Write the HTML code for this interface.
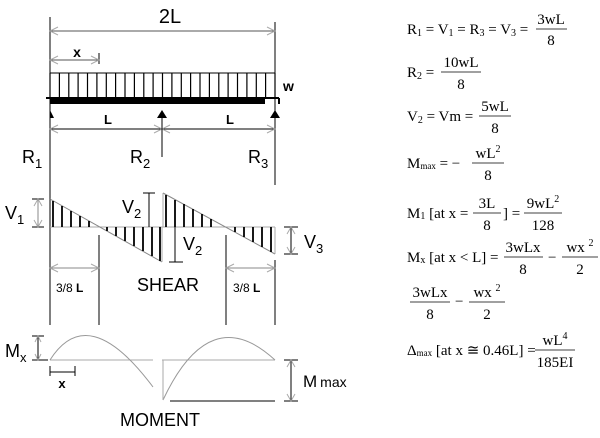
<!DOCTYPE html>
<html><head><meta charset="utf-8"><style>
html,body{margin:0;padding:0;background:#fff;}
svg{display:block;}
.s{font-family:"Liberation Sans",sans-serif;fill:#000;}
.e{font-family:"Liberation Serif",serif;font-size:15px;fill:#000;}
</style></head><body>
<svg width="600" height="438" viewBox="0 0 600 438" xmlns="http://www.w3.org/2000/svg">
<g stroke="#000" stroke-width="1" fill="none">
<line x1="50" y1="17" x2="50" y2="325"/>
<line x1="275" y1="22" x2="275" y2="185"/>
<line x1="50" y1="31" x2="275" y2="31" stroke="#555"/>
<polyline points="58,27 50,31 58,35" stroke="#aaa"/>
<polyline points="267,27 275,31 267,35" stroke="#aaa"/>
<line x1="50" y1="60" x2="99" y2="60" stroke="#555"/>
<line x1="99" y1="53" x2="99" y2="64"/>
<polyline points="58,56 50,60 58,64" stroke="#aaa"/>
<polyline points="91,56 99,60 91,64" stroke="#aaa"/>
<line x1="50" y1="73" x2="275" y2="73"/>
<path d="M50 73V98M59.4 73V98M68.8 73V98M78.1 73V98M87.5 73V98M96.9 73V98M106.3 73V98M115.6 73V98M125 73V98M134.4 73V98M143.8 73V98M153.1 73V98M162.5 73V98M171.9 73V98M181.3 73V98M190.6 73V98M200 73V98M209.4 73V98M218.8 73V98M228.1 73V98M237.5 73V98M246.9 73V98M256.3 73V98M265.6 73V98M275 73V98" stroke-width="1.2"/>
<line x1="46" y1="98" x2="279" y2="98" stroke-width="2"/>
<rect x="50" y="98" width="215" height="6" fill="#000" stroke="none"/>
<line x1="279" y1="98" x2="279" y2="104" stroke-width="2"/>
<line x1="50" y1="129" x2="275" y2="129"/>
<polyline points="58,125 50,129 58,133" stroke="#aaa"/>
<polyline points="154,125 162,129 154,133" stroke="#aaa"/>
<polyline points="170,125 162,129 170,133" stroke="#aaa"/>
<polyline points="267,125 275,129 267,133" stroke="#aaa"/>
<line x1="162" y1="118" x2="162" y2="157"/>
<line x1="50" y1="227" x2="275" y2="227" stroke="#aaa"/>
<line x1="50" y1="199" x2="162" y2="262" stroke="#888"/>
<line x1="163" y1="193" x2="275" y2="254" stroke="#888"/>
<line x1="162" y1="227" x2="162" y2="262" stroke="#aaa"/>
<line x1="275" y1="227" x2="275" y2="254" stroke="#aaa"/>
<line x1="163" y1="193" x2="163" y2="227" stroke="#aaa"/>
<path d="M53 201V227M62 206V227M71 211V227M80 216V227M89 221V227M107 227V231M116 227V236M125 227V241M134 227V246M143 227V251M152 227V256M160 227V261M166 195V227M175 200V227M184 204V227M193 209V227M202 214V227M211 219V227M235 227V232M244 227V237M253 227V242M262 227V247M271 227V252" stroke-width="1.8"/>
<line x1="38" y1="199" x2="38" y2="227" stroke="#888"/>
<line x1="32" y1="199" x2="44" y2="199"/><line x1="32" y1="227" x2="44" y2="227"/>
<polyline points="34,206 38,199 42,206" stroke="#aaa"/><polyline points="34,220 38,227 42,220" stroke="#aaa"/>
<line x1="149" y1="193" x2="149" y2="227"/><line x1="143" y1="193" x2="155" y2="193"/>
<line x1="175" y1="227" x2="175" y2="262"/><line x1="169" y1="262" x2="183" y2="262"/>
<line x1="291" y1="227" x2="291" y2="254"/>
<line x1="284" y1="227" x2="298" y2="227"/><line x1="284" y1="254" x2="298" y2="254"/>
<polyline points="287,234 291,227 295,234" stroke="#aaa"/><polyline points="287,247 291,254 295,247" stroke="#aaa"/>
<line x1="99" y1="235" x2="99" y2="325"/>
<line x1="226" y1="235" x2="226" y2="325"/>
<line x1="275" y1="260" x2="275" y2="325"/>
<line x1="50" y1="268" x2="99" y2="268" stroke="#888"/>
<line x1="226" y1="268" x2="275" y2="268" stroke="#888"/>
<polyline points="58,264 50,268 58,272" stroke="#aaa"/><polyline points="91,264 99,268 91,272" stroke="#aaa"/>
<polyline points="234,264 226,268 234,272" stroke="#aaa"/><polyline points="267,264 275,268 267,272" stroke="#aaa"/>
<line x1="50" y1="360" x2="153" y2="360" stroke="#aaa"/>
<line x1="162" y1="360" x2="275" y2="360" stroke="#aaa"/>
<line x1="170" y1="401" x2="275" y2="401"/>
<path d="M50 360 Q88 300 153 387" stroke="#999"/>
<path d="M163 400 Q210 300 275 360" stroke="#999"/>
<line x1="163" y1="360" x2="163" y2="400" stroke="#aaa"/>
<line x1="38" y1="336" x2="38" y2="360"/>
<line x1="32" y1="336" x2="44" y2="336"/><line x1="32" y1="360" x2="48" y2="360"/>
<polyline points="35,342 38,336 41,342" stroke="#aaa"/><polyline points="35,354 38,360 41,354" stroke="#aaa"/>
<line x1="50" y1="372" x2="75" y2="372"/><line x1="50" y1="366" x2="50" y2="376"/><line x1="75" y1="366" x2="75" y2="376"/>
<line x1="291" y1="360" x2="291" y2="401"/>
<line x1="284" y1="360" x2="298" y2="360"/><line x1="284" y1="401" x2="298" y2="401"/>
<polyline points="287,367 291,360 295,367" stroke="#aaa"/><polyline points="287,394 291,401 295,394" stroke="#aaa"/>
<g stroke-width="0.8">
<line x1="536" y1="29" x2="567" y2="29"/>
<line x1="441" y1="72" x2="481" y2="72"/>
<line x1="479" y1="116" x2="511" y2="116"/>
<line x1="472" y1="163" x2="504" y2="163"/>
<line x1="473" y1="213" x2="501" y2="213"/>
<line x1="524" y1="213" x2="562" y2="213"/>
<line x1="504" y1="257" x2="543" y2="257"/>
<line x1="562" y1="257" x2="598" y2="257"/>
<line x1="410" y1="302" x2="450" y2="302"/>
<line x1="469" y1="302" x2="505" y2="302"/>
<line x1="535" y1="350" x2="575" y2="350"/>
</g>
</g>
<polygon points="50,110 54,118 50,118" fill="#000"/>
<polygon points="162,110 167,118 157,118" fill="#000"/>
<polygon points="275,110 280,118 270,118" fill="#000"/>
<g class="s">
<text x="170" y="23" font-size="20" text-anchor="middle">2L</text>
<text x="77" y="57" font-size="14" font-weight="bold" text-anchor="middle">x</text>
<text x="283" y="91" font-size="14" font-weight="bold">w</text>
<text x="108" y="124" font-size="13" font-weight="bold" text-anchor="middle">L</text>
<text x="230" y="124" font-size="13" font-weight="bold" text-anchor="middle">L</text>
<text x="22" y="163" font-size="18">R<tspan font-size="13" dy="5">1</tspan></text>
<text x="130" y="163" font-size="18">R<tspan font-size="13" dy="5">2</tspan></text>
<text x="248" y="163" font-size="18">R<tspan font-size="13" dy="5">3</tspan></text>
<text x="5" y="219" font-size="18">V<tspan font-size="13" dy="5">1</tspan></text>
<text x="122" y="213" font-size="18">V<tspan font-size="13" dy="5">2</tspan></text>
<text x="183" y="250" font-size="18">V<tspan font-size="13" dy="5">2</tspan></text>
<text x="304" y="248" font-size="18">V<tspan font-size="13" dy="5">3</tspan></text>
<text x="56" y="292" font-size="12">3/8 <tspan font-weight="bold">L</tspan></text>
<text x="233" y="292" font-size="12">3/8 <tspan font-weight="bold">L</tspan></text>
<text x="168" y="291" font-size="18" text-anchor="middle">SHEAR</text>
<text x="5" y="357" font-size="18">M<tspan font-size="13" dy="5">x</tspan></text>
<text x="62" y="388" font-size="13" font-weight="bold" text-anchor="middle">x</text>
<text x="303" y="387" font-size="17">M<tspan font-size="14" dx="3">max</tspan></text>
<text x="160" y="426" font-size="18" text-anchor="middle">MOMENT</text>
</g>
<g class="e">
<text x="407" y="34">R<tspan font-size="10" dy="2">1</tspan><tspan dy="-2"> = V</tspan><tspan font-size="10" dy="2">1</tspan><tspan dy="-2"> = R</tspan><tspan font-size="10" dy="2">3</tspan><tspan dy="-2"> = V</tspan><tspan font-size="10" dy="2">3</tspan><tspan dy="-2"> =</tspan></text>
<text x="551" y="24" text-anchor="middle">3wL</text><text x="551" y="45" text-anchor="middle">8</text>
<text x="407" y="77">R<tspan font-size="10" dy="2">2</tspan><tspan dy="-2"> =</tspan></text>
<text x="461" y="67" text-anchor="middle">10wL</text><text x="461" y="89" text-anchor="middle">8</text>
<text x="407" y="121">V<tspan font-size="10" dy="2">2</tspan><tspan dy="-2"> = Vm =</tspan></text>
<text x="495" y="111" text-anchor="middle">5wL</text><text x="495" y="133" text-anchor="middle">8</text>
<text x="407" y="168">M<tspan font-size="9" dy="1">max</tspan><tspan dy="-1"> = −</tspan></text>
<text x="488" y="158" text-anchor="middle">wL<tspan font-size="10" dy="-6">2</tspan></text><text x="488" y="180" text-anchor="middle">8</text>
<text x="407" y="218">M<tspan font-size="10" dy="1">1</tspan><tspan dy="-1"> [at x = </tspan></text>
<text x="487" y="208" text-anchor="middle">3L</text><text x="487" y="230" text-anchor="middle">8</text>
<text x="503" y="218">] =</text>
<text x="543" y="208" text-anchor="middle">9wL<tspan font-size="10" dy="-6">2</tspan></text><text x="543" y="230" text-anchor="middle">128</text>
<text x="407" y="262">M<tspan font-size="10" dy="1">x</tspan><tspan dy="-1"> [at x &lt; L] =</tspan></text>
<text x="523" y="252" text-anchor="middle">3wLx</text><text x="523" y="274" text-anchor="middle">8</text>
<text x="548" y="262">−</text>
<text x="580" y="252" text-anchor="middle">wx <tspan font-size="10" dy="-6">2</tspan></text><text x="580" y="274" text-anchor="middle">2</text>
<text x="430" y="297" text-anchor="middle">3wLx</text><text x="430" y="319" text-anchor="middle">8</text>
<text x="455" y="306">−</text>
<text x="487" y="297" text-anchor="middle">wx <tspan font-size="10" dy="-6">2</tspan></text><text x="487" y="319" text-anchor="middle">2</text>
<text x="407" y="355">Δ<tspan font-size="9" dy="1">max</tspan><tspan dy="-1"> [at x ≅ 0.46L] =</tspan></text>
<text x="555" y="345" text-anchor="middle">wL<tspan font-size="10" dy="-6">4</tspan></text><text x="555" y="367" text-anchor="middle">185EI</text>
</g>
</svg>
</body></html>
